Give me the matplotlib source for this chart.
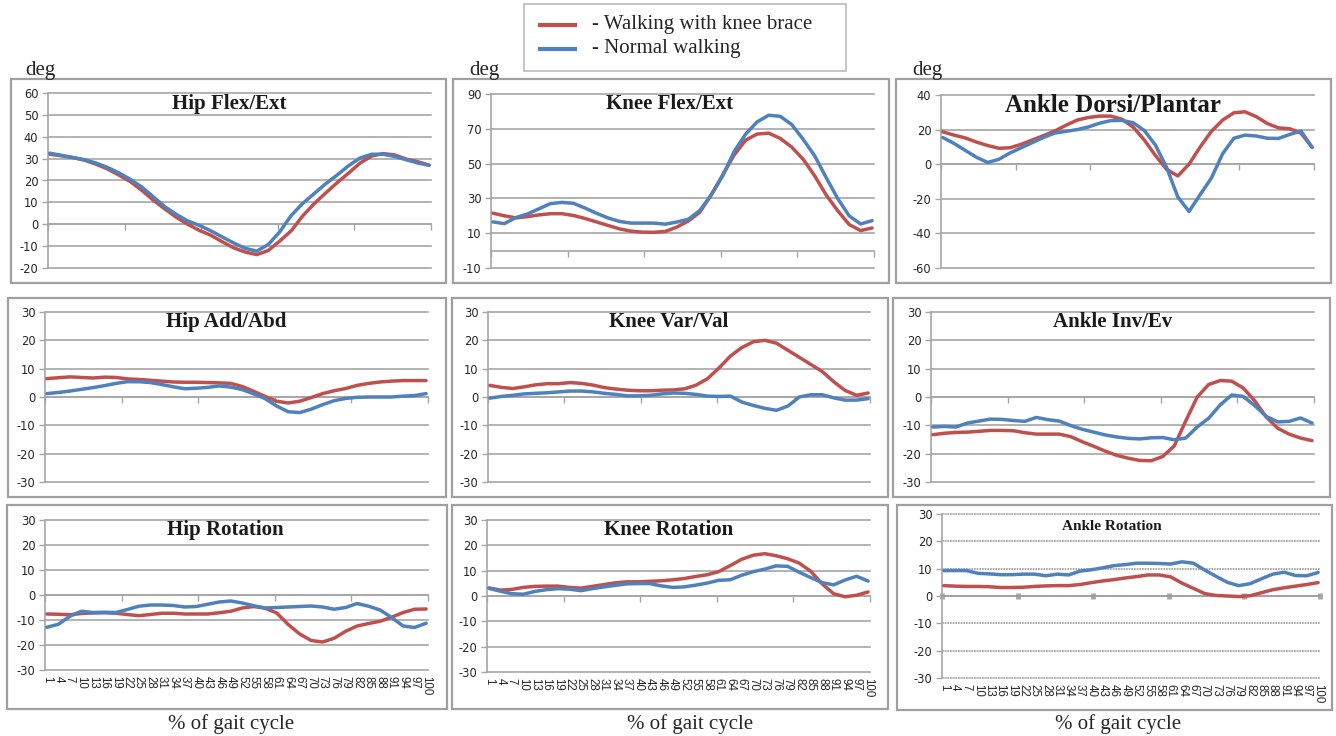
import matplotlib
matplotlib.use('Agg')
import matplotlib.pyplot as plt
from matplotlib.patches import Rectangle
from matplotlib.lines import Line2D

W, H = 1336, 736

# % of gait cycle (sampled every 3 %)
X = list(range(1, 101, 3))

# ---- data: brace (red) / normal (blue) ----
hip_flex_brace = [32, 31.3, 30.5, 29.3, 27.5, 25.3, 22.5, 19.5, 15.5, 11, 7, 3.2, 0, -2.8, -5, -8, -10.8,
                  -12.7, -13.9, -12, -7.7, -3, 3.8, 9.4, 14.3, 19, 23.4, 28, 31.2, 32.3, 31.7, 29.8, 28.6, 27]
hip_flex_normal = [32.5, 31.5, 30.5, 29.5, 28, 26, 23.5, 20.5, 17, 12.5, 8, 4.5, 1.5, -0.5, -3, -5.8, -8.6,
                   -11, -12.3, -9.3, -3.5, 4, 9.5, 14, 18.5, 22.5, 26.8, 30.3, 32, 32, 31, 29.5, 28, 27]

knee_flex_brace = [21.5, 20, 18.8, 19.5, 20.5, 21.2, 21.2, 20.2, 18.5, 16.5, 14.5, 12.5, 11.2, 10.6, 10.5, 11,
                   13.5, 17, 22, 32, 43.5, 55, 63.5, 67, 67.5, 64.5, 59.5, 52.5, 43, 32, 23, 15, 11.5, 13]
knee_flex_normal = [16.5, 15.5, 19, 21, 24, 27, 27.7, 27.2, 24.5, 21.5, 18.8, 16.8, 15.8, 15.8, 15.8, 15.2,
                    16.4, 18, 23, 32, 43, 57, 67, 74, 77.8, 77.2, 72.5, 64, 54.5, 42, 30, 20, 15.3, 17.2]

ankle_df_brace = [18.7, 16.8, 15.2, 12.8, 10.8, 9.2, 9.5, 11.5, 14, 16.5, 19.2, 22.5, 25.5, 27, 27.8, 27.8,
                  26, 21.5, 14, 5, -3, -6.8, 0, 10, 19, 25.5, 29.7, 30.3, 27.5, 23.5, 21, 20.5, 18, 9.7]
ankle_df_normal = [15.4, 12, 8, 4, 1, 2.8, 6.5, 9.5, 12.5, 15.5, 18, 19, 20, 21.5, 23.7, 25.2, 25.3, 24,
                   19.5, 11, -2, -19, -27.3, -17.5, -8, 6, 15, 16.8, 16.3, 15, 14.9, 17.2, 19.2, 9.7]

hip_add_brace = [6.5, 6.8, 7.1, 6.9, 6.7, 7.0, 6.9, 6.4, 6.2, 5.9, 5.6, 5.3, 5.2, 5.2, 5.1, 5.0, 4.8, 3.7,
                 2, 0.2, -1.5, -2.1, -1.5, -0.2, 1.2, 2.2, 3, 4.1, 4.8, 5.3, 5.6, 5.8, 5.8, 5.8]
hip_add_normal = [1.2, 1.6, 2.1, 2.7, 3.3, 4.0, 4.8, 5.4, 5.4, 5.1, 4.4, 3.6, 2.9, 3.1, 3.4, 3.9, 3.5, 2.6,
                  1.1, -0.6, -3.2, -5.2, -5.5, -4.3, -2.7, -1.3, -0.5, -0.1, 0, 0, 0, 0.3, 0.5, 1.2]

knee_var_brace = [4.1, 3.4, 3.0, 3.6, 4.3, 4.7, 4.7, 5.1, 4.8, 4.2, 3.3, 2.8, 2.4, 2.2, 2.2, 2.4, 2.5, 2.9,
                  4.2, 6.5, 10.3, 14.5, 17.5, 19.5, 20, 19, 16.5, 14, 11.5, 9, 5.4, 2.3, 0.6, 1.4]
knee_var_normal = [-0.4, 0.2, 0.6, 1.1, 1.3, 1.5, 1.8, 2.1, 2.1, 1.8, 1.3, 0.9, 0.4, 0.4, 0.6, 1.1, 1.4, 1.3,
                   0.9, 0.3, 0.2, 0.3, -1.8, -3, -4, -4.7, -3.2, 0, 0.8, 0.8, -0.3, -1.1, -1.1, -0.6]

ankle_ie_brace = [-13.3, -12.8, -12.5, -12.4, -12.1, -11.8, -11.8, -11.9, -12.6, -13.1, -13.1, -13.1, -14,
                  -15.8, -17.4, -19.1, -20.6, -21.6, -22.4, -22.5, -21, -17.3, -8.5, 0, 4.4, 5.8, 5.6, 3.2,
                  -1.3, -7, -11, -13.1, -14.5, -15.4]
ankle_ie_normal = [-10.6, -10.4, -10.6, -9.2, -8.5, -7.8, -7.9, -8.3, -8.6, -7.2, -8.0, -8.5, -10.1, -11.4,
                   -12.4, -13.4, -14.1, -14.6, -14.8, -14.4, -14.3, -15.1, -14.5, -10.6, -7.5, -2.8, 0.7, 0.2,
                   -3, -6.8, -8.8, -8.6, -7.4, -9.2]

hip_rot_brace = [-7.6, -7.7, -7.9, -7.4, -7.2, -7.1, -7.3, -7.8, -8.3, -7.8, -7.3, -7.3, -7.6, -7.6, -7.6,
                 -7.1, -6.5, -5.2, -4.6, -5.3, -7.2, -11.8, -15.6, -18.2, -18.8, -17.3, -14.5, -12.4, -11.4,
                 -10.5, -8.9, -7, -5.7, -5.6]
hip_rot_normal = [-12.9, -11.7, -8.5, -6.5, -7, -6.9, -7, -5.8, -4.5, -4, -4, -4.2, -4.8, -4.6, -3.7, -2.8,
                  -2.4, -3.2, -4.3, -5.2, -5, -4.8, -4.6, -4.4, -4.8, -5.7, -5, -3.4, -4.5, -6, -9, -12.4,
                  -13, -11.3]

knee_rot_brace = [3.2, 2.3, 2.6, 3.4, 3.8, 3.9, 3.9, 3.4, 3.1, 3.8, 4.5, 5.2, 5.6, 5.6, 5.8, 6, 6.4, 6.9,
                  7.7, 8.4, 9.6, 12, 14.5, 16.1, 16.7, 15.9, 14.7, 13, 9.8, 4.8, 0.9, -0.3, 0.3, 1.6]
knee_rot_normal = [3, 1.9, 0.9, 0.7, 1.8, 2.5, 2.9, 2.7, 2.1, 2.9, 3.6, 4.2, 4.8, 4.9, 4.9, 4, 3.4, 3.6, 4.3,
                   5.1, 6.2, 6.4, 8.2, 9.6, 10.6, 11.9, 11.7, 9.4, 7.3, 5.3, 4.4, 6.3, 7.8, 5.9]

ankle_rot_brace = [3.8, 3.6, 3.5, 3.5, 3.4, 3.1, 3.1, 3.2, 3.5, 3.7, 3.8, 3.8, 4.2, 4.9, 5.5, 6, 6.6, 7.1,
                   7.7, 7.7, 7, 4.7, 2.8, 0.9, 0.2, 0, -0.2, 0.1, 1.2, 2.3, 3, 3.6, 4.2, 4.9]
ankle_rot_normal = [9.3, 9.3, 9.3, 8.3, 8.1, 7.8, 7.8, 8, 8, 7.4, 8, 7.7, 9.1, 9.6, 10.3, 11.1, 11.5, 12, 12,
                    11.9, 11.7, 12.5, 12, 9.5, 7.2, 5, 3.8, 4.5, 6.3, 8, 8.7, 7.5, 7.4, 8.6]

titles = ["Hip Flex/Ext", "Knee Flex/Ext", "Ankle Dorsi/Plantar",
          "Hip Add/Abd", "Knee Var/Val", "Ankle Inv/Ev",
          "Hip Rotation", "Knee Rotation", "Ankle Rotation"]
brace_series = [hip_flex_brace, knee_flex_brace, ankle_df_brace, hip_add_brace, knee_var_brace,
                ankle_ie_brace, hip_rot_brace, knee_rot_brace, ankle_rot_brace]
normal_series = [hip_flex_normal, knee_flex_normal, ankle_df_normal, hip_add_normal, knee_var_normal,
                 ankle_ie_normal, hip_rot_normal, knee_rot_normal, ankle_rot_normal]
yticks_list = [list(range(-20, 61, 10)), list(range(-10, 91, 20)), list(range(-60, 41, 20))] + \
              [list(range(-30, 31, 10))] * 6
legend_labels = ["- Walking with knee brace", "- Normal walking"]
xlabel = "% of gait cycle"

# ---- layout (pixels: left, top, right, bottom) ----
ax_boxes = [(48, 93, 431, 268), (491, 94, 874, 268), (941, 95, 1314, 268),
            (45, 312, 428, 482), (488, 312, 870, 482), (931, 312, 1314, 482),
            (45, 520, 428, 670), (487, 520, 870, 672), (942, 514, 1320, 678)]
frames = [(11, 79, 446, 283), (453, 79, 889, 283), (896, 79, 1331, 283),
          (8, 298, 446, 497), (452, 298, 888, 497), (893, 298, 1330, 497),
          (7, 505, 447, 709), (452, 505, 888, 709), (897, 505, 1332, 710)]
title_pos = [(229, 104), (670, 104), (1113, 106), (226, 322), (669, 322), (1113, 322),
             (225, 530), (669, 530), (1112, 527)]
title_size = [15, 15, 18, 15, 15, 15, 15, 15, 11]

RED = '#C0504D'
BLUE = '#4F81BD'
GRID = '#A6A6A6'
FRAME = '#A0A0A0'
TXT = '#262626'
SERIF = 'Liberation Serif'
SANS = 'Liberation Sans'
TICKFONT = 'DejaVu Sans'

fig = plt.figure(figsize=(W / 100, H / 100), dpi=100)


def fbox(l, t, r, b):
    return [l / W, 1 - b / H, (r - l) / W, (b - t) / H]


for i in range(9):
    l, t, r, b = frames[i]
    fig.patches.append(Rectangle((l / W, 1 - b / H), (r - l) / W, (b - t) / H,
                                 transform=fig.transFigure, fill=False,
                                 edgecolor=FRAME, lw=1.6, zorder=0))
    ax = fig.add_axes(fbox(*ax_boxes[i]))
    ax.patch.set_alpha(0)
    yt = yticks_list[i]
    ax.set_ylim(yt[0], yt[-1])
    ax.set_xlim(0.5, 100.5)
    ax.set_yticks(yt)
    ax.set_yticklabels([str(v) for v in yt], fontfamily=TICKFONT, fontsize=8.3, color=TXT)
    ax.tick_params(axis='y', direction='out', length=4, width=1, color=GRID, pad=3)
    dotted = (i == 8)
    ax.yaxis.grid(True, color='#9A9A9A' if dotted else GRID, lw=1.2,
                  ls=(0, (1, 0.6)) if dotted else '-')
    for gl in ax.get_ygridlines():
        gl.set_clip_on(False)
    ax.set_axisbelow(True)
    for s in ('top', 'right'):
        ax.spines[s].set_visible(False)
    ax.spines['left'].set_color(GRID)
    ax.spines['left'].set_linewidth(1.2)
    ax.spines['bottom'].set_position(('data', 0))
    ax.spines['bottom'].set_color('#9A9A9A' if dotted else GRID)
    ax.spines['bottom'].set_linewidth(1.2)
    ax.set_xticks([0.5, 20.5, 40.5, 60.5, 80.5, 100.5])
    if dotted:
        ax.tick_params(axis='x', direction='inout', length=4, width=3.5, color='#A8A8A8',
                       labelbottom=False)
    else:
        ax.tick_params(axis='x', direction='out', length=4, width=1, color=GRID,
                       labelbottom=False)

    ax.plot(X, brace_series[i], color=RED, lw=2.5, solid_capstyle='round', zorder=3)
    ax.plot(X, normal_series[i], color=BLUE, lw=2.5, solid_capstyle='round', zorder=4)

    if i >= 6:
        sec = ax.secondary_xaxis('bottom')
        sec.set_xticks(X)
        sec.set_xticklabels([str(v) for v in X], rotation=270, fontfamily=SANS,
                            fontsize=8.3, color=TXT)
        sec.tick_params(length=0, pad=4)
        sec.spines['bottom'].set_visible(False)

    tx, ty = title_pos[i]
    fig.text(tx / W, 1 - ty / H, titles[i], ha='center', va='center', fontfamily=SERIF,
             fontweight='bold', fontsize=title_size[i], color='#1a1a1a')

# "deg" labels
for px, py in [(25, 70), (469, 70), (912, 70)]:
    fig.text(px / W, 1 - py / H, "deg", ha='left', va='center', fontfamily=SERIF,
             fontsize=15, color=TXT)

# x-axis labels
for px in [231, 690, 1118]:
    fig.text(px / W, 1 - 724 / H, xlabel, ha='center', va='center', fontfamily=SERIF,
             fontsize=15, color=TXT)

# legend
fig.patches.append(Rectangle((524 / W, 1 - 71 / H), (846 - 524) / W, (71 - 4) / H,
                             transform=fig.transFigure, fill=False, edgecolor='#BBBBBB', lw=1.2))
for (col, lab, py) in [(RED, legend_labels[0], 25), (BLUE, legend_labels[1], 49)]:
    fig.lines.append(Line2D([540 / W, 575 / W], [1 - py / H, 1 - py / H], transform=fig.transFigure,
                            color=col, lw=3))
    fig.text(592 / W, 1 - py / H, lab, ha='left', va='center', fontfamily=SERIF,
             fontsize=15, color=TXT)

fig.savefig('out.png', dpi=100)
